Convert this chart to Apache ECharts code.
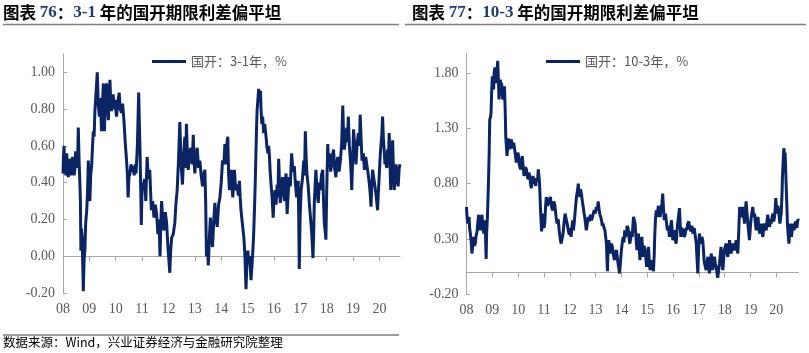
<!DOCTYPE html>
<html><head><meta charset="utf-8">
<script src="https://cdn.jsdelivr.net/npm/echarts@6/dist/echarts.min.js"></script>
<style>html,body{margin:0;padding:0;background:#fff}#c{width:809px;height:353px}</style>
</head><body><div id="c"></div>
<script>
// ---- data ----
const yearTicks = [2008,2009,2010,2011,2012,2013,2014,2015,2016,2017,2018,2019,2020];
const yearLabels = ['08','09','10','11','12','13','14','15','16','17','18','19','20'];
const yTicksA = [-0.2,0,0.2,0.4,0.6,0.8,1.0];
const yLabelsA = ['-0.20','0.00','0.20','0.40','0.60','0.80','1.00'];
const yTicksB = [-0.2,0.3,0.8,1.3,1.8];
const yLabelsB = ['-0.20','0.30','0.80','1.30','1.80'];
const nameA = '国开：3-1年，%';
const nameB = '国开：10-3年，%';

// [year, spread %]
const spread31 = [
[2008.00,0.45],[2008.02,0.55],[2008.04,0.60],[2008.06,0.47],[2008.09,0.50],[2008.11,0.44],[2008.14,0.56],[2008.17,0.48],[2008.20,0.43],[2008.23,0.51],
[2008.27,0.53],[2008.30,0.44],[2008.33,0.45],[2008.36,0.54],[2008.39,0.52],[2008.42,0.44],[2008.45,0.47],[2008.48,0.57],[2008.52,0.55],[2008.55,0.48],
[2008.58,0.70],[2008.61,0.52],[2008.64,0.40],[2008.66,0.30],[2008.68,0.03],[2008.70,0.15],[2008.73,0.10],[2008.75,-0.05],[2008.77,-0.19],[2008.80,-0.02],
[2008.83,0.03],[2008.86,0.18],[2008.90,0.25],[2008.93,0.35],[2008.96,0.52],[2008.99,0.40],[2009.02,0.30],[2009.05,0.44],[2009.09,0.50],[2009.12,0.60],
[2009.15,0.68],[2009.18,0.65],[2009.21,0.79],[2009.25,0.88],[2009.30,1.00],[2009.34,0.82],[2009.38,0.76],[2009.42,0.86],[2009.46,0.68],[2009.50,0.84],
[2009.53,0.94],[2009.55,0.78],[2009.57,0.68],[2009.61,0.86],[2009.65,0.94],[2009.69,0.80],[2009.72,0.74],[2009.75,0.88],[2009.78,0.96],[2009.81,0.84],
[2009.84,0.79],[2009.90,0.88],[2009.94,0.80],[2009.97,0.85],[2010.00,0.80],[2010.03,0.76],[2010.08,0.84],[2010.13,0.89],[2010.17,0.80],[2010.22,0.78],
[2010.26,0.83],[2010.31,0.74],[2010.36,0.62],[2010.41,0.52],[2010.44,0.45],[2010.47,0.32],[2010.50,0.43],[2010.54,0.45],[2010.58,0.50],[2010.62,0.46],
[2010.66,0.49],[2010.70,0.44],[2010.74,0.50],[2010.77,0.45],[2010.82,0.60],[2010.87,0.89],[2010.90,0.70],[2010.92,0.58],[2010.95,0.35],[2010.97,0.17],
[2011.00,0.40],[2011.04,0.36],[2011.09,0.42],[2011.14,0.30],[2011.17,0.45],[2011.19,0.54],[2011.24,0.42],[2011.29,0.47],[2011.32,0.36],[2011.35,0.25],
[2011.40,0.30],[2011.45,0.21],[2011.50,0.28],[2011.55,0.23],[2011.60,0.12],[2011.64,0.20],[2011.68,0.00],[2011.71,0.18],[2011.74,0.30],[2011.78,0.20],
[2011.83,0.14],[2011.88,0.24],[2011.93,0.18],[2011.96,0.10],[2011.99,0.03],[2012.02,0.02],[2012.05,-0.09],[2012.08,0.02],[2012.12,0.10],[2012.18,0.12],
[2012.24,0.18],[2012.28,0.28],[2012.33,0.36],[2012.38,0.52],[2012.43,0.73],[2012.48,0.50],[2012.53,0.39],[2012.58,0.56],[2012.62,0.65],[2012.65,0.48],
[2012.68,0.72],[2012.72,0.55],[2012.75,0.47],[2012.80,0.56],[2012.85,0.59],[2012.90,0.50],[2012.94,0.66],[2012.97,0.52],[2013.00,0.45],[2013.05,0.55],
[2013.09,0.59],[2013.14,0.48],[2013.19,0.52],[2013.24,0.44],[2013.29,0.38],[2013.33,0.44],[2013.38,0.47],[2013.41,0.30],[2013.44,0.00],[2013.47,0.08],
[2013.51,-0.05],[2013.55,0.10],[2013.59,0.21],[2013.63,0.12],[2013.67,0.05],[2013.72,0.20],[2013.76,0.29],[2013.80,0.20],[2013.85,0.16],[2013.90,0.28],
[2013.95,0.32],[2014.00,0.40],[2014.05,0.52],[2014.10,0.50],[2014.14,0.61],[2014.17,0.50],[2014.20,0.59],[2014.23,0.63],[2014.25,0.65],[2014.28,0.45],
[2014.31,0.36],[2014.35,0.44],[2014.38,0.47],[2014.41,0.38],[2014.44,0.32],[2014.47,0.40],[2014.50,0.47],[2014.55,0.36],[2014.60,0.39],[2014.65,0.33],
[2014.69,0.41],[2014.72,0.32],[2014.75,0.25],[2014.80,0.18],[2014.86,0.10],[2014.90,0.00],[2014.94,-0.18],[2014.97,-0.05],[2015.01,0.03],[2015.04,-0.03],
[2015.07,0.00],[2015.10,-0.06],[2015.13,-0.13],[2015.17,-0.04],[2015.20,0.03],[2015.23,0.12],[2015.26,0.25],[2015.29,0.40],[2015.32,0.58],[2015.34,0.70],
[2015.36,0.79],[2015.39,0.85],[2015.42,0.91],[2015.45,0.84],[2015.49,0.90],[2015.51,0.80],[2015.54,0.72],[2015.57,0.76],[2015.61,0.67],[2015.65,0.72],
[2015.70,0.65],[2015.73,0.60],[2015.77,0.56],[2015.80,0.60],[2015.83,0.54],[2015.86,0.45],[2015.89,0.39],[2015.93,0.32],[2015.97,0.21],[2016.00,0.30],
[2016.04,0.36],[2016.08,0.28],[2016.12,0.39],[2016.15,0.32],[2016.18,0.53],[2016.21,0.40],[2016.24,0.29],[2016.28,0.36],[2016.33,0.43],[2016.37,0.34],
[2016.40,0.30],[2016.43,0.40],[2016.46,0.45],[2016.48,0.32],[2016.50,0.23],[2016.54,0.34],[2016.58,0.43],[2016.62,0.38],[2016.67,0.56],[2016.72,0.46],
[2016.77,0.49],[2016.81,0.40],[2016.86,0.32],[2016.89,0.38],[2016.92,0.41],[2016.94,0.20],[2016.96,-0.07],[2016.99,0.20],[2017.03,0.36],[2017.08,0.42],
[2017.13,0.52],[2017.16,0.44],[2017.19,0.68],[2017.22,0.54],[2017.25,0.45],[2017.30,0.38],[2017.34,0.29],[2017.38,0.22],[2017.43,0.13],[2017.46,0.05],
[2017.48,-0.01],[2017.51,0.15],[2017.53,0.29],[2017.56,0.38],[2017.59,0.47],[2017.64,0.34],[2017.68,0.29],[2017.72,0.40],[2017.76,0.36],[2017.80,0.44],
[2017.85,0.47],[2017.88,0.30],[2017.91,0.18],[2017.94,0.14],[2017.97,0.09],[2018.00,0.35],[2018.04,0.61],[2018.07,0.50],[2018.10,0.56],[2018.15,0.46],
[2018.19,0.50],[2018.22,0.55],[2018.26,0.58],[2018.30,0.48],[2018.35,0.43],[2018.38,0.50],[2018.42,0.54],[2018.47,0.46],[2018.52,0.52],[2018.57,0.62],
[2018.61,0.82],[2018.64,0.66],[2018.67,0.58],[2018.72,0.64],[2018.76,0.70],[2018.79,0.62],[2018.82,0.76],[2018.86,0.60],[2018.90,0.52],[2018.93,0.44],
[2018.95,0.36],[2018.99,0.55],[2019.02,0.69],[2019.07,0.58],[2019.11,0.50],[2019.15,0.60],[2019.20,0.67],[2019.24,0.60],[2019.27,0.77],[2019.31,0.62],
[2019.34,0.52],[2019.39,0.56],[2019.43,0.47],[2019.48,0.54],[2019.53,0.49],[2019.58,0.44],[2019.62,0.39],[2019.65,0.34],[2019.68,0.27],[2019.71,0.38],
[2019.74,0.47],[2019.79,0.42],[2019.83,0.38],[2019.88,0.32],[2019.93,0.25],[2019.96,0.35],[2019.99,0.43],[2020.02,0.52],[2020.05,0.59],[2020.09,0.66],
[2020.12,0.76],[2020.15,0.64],[2020.18,0.58],[2020.21,0.50],[2020.24,0.52],[2020.28,0.48],[2020.31,0.58],[2020.34,0.52],[2020.37,0.67],[2020.40,0.50],
[2020.43,0.36],[2020.47,0.52],[2020.50,0.63],[2020.53,0.48],[2020.56,0.36],[2020.60,0.44],[2020.63,0.50],[2020.67,0.42],[2020.71,0.38],[2020.75,0.48],
[2020.78,0.50]
];

const spread103 = [
[2008.00,0.59],[2008.02,0.50],[2008.05,0.44],[2008.08,0.48],[2008.10,0.50],[2008.12,0.40],[2008.15,0.35],[2008.18,0.28],[2008.21,0.17],[2008.25,0.26],
[2008.28,0.32],[2008.31,0.24],[2008.34,0.26],[2008.37,0.33],[2008.41,0.37],[2008.44,0.45],[2008.47,0.52],[2008.50,0.42],[2008.54,0.38],[2008.57,0.48],
[2008.60,0.52],[2008.63,0.42],[2008.67,0.35],[2008.70,0.44],[2008.72,0.47],[2008.74,0.30],[2008.76,0.12],[2008.78,0.35],[2008.81,0.50],[2008.83,0.65],
[2008.85,0.80],[2008.88,1.10],[2008.90,1.38],[2008.93,1.40],[2008.95,1.44],[2008.97,1.60],[2009.00,1.77],[2009.02,1.70],[2009.05,1.65],[2009.07,1.80],
[2009.10,1.85],[2009.13,1.75],[2009.16,1.71],[2009.18,1.82],[2009.21,1.91],[2009.24,1.70],[2009.26,1.56],[2009.29,1.68],[2009.31,1.74],[2009.34,1.66],
[2009.36,1.71],[2009.38,1.62],[2009.41,1.56],[2009.44,1.64],[2009.47,1.68],[2009.50,1.45],[2009.52,1.23],[2009.55,1.12],[2009.57,1.05],[2009.60,1.14],
[2009.62,1.21],[2009.65,1.14],[2009.67,1.11],[2009.70,1.17],[2009.74,1.20],[2009.77,1.12],[2009.80,1.11],[2009.83,1.17],[2009.87,1.18],[2009.90,1.05],
[2009.93,0.99],[2009.96,1.05],[2010.00,1.08],[2010.04,0.98],[2010.09,0.93],[2010.12,1.00],[2010.16,1.05],[2010.20,0.94],[2010.23,0.87],[2010.28,0.95],
[2010.32,0.93],[2010.35,0.88],[2010.38,0.84],[2010.42,0.90],[2010.45,0.87],[2010.48,0.80],[2010.51,0.76],[2010.55,0.83],[2010.58,0.87],[2010.61,0.80],
[2010.64,0.82],[2010.68,0.78],[2010.71,0.85],[2010.75,0.82],[2010.78,0.93],[2010.81,0.86],[2010.83,0.80],[2010.87,0.55],[2010.91,0.37],[2010.94,0.48],
[2010.96,0.53],[2011.00,0.40],[2011.03,0.44],[2011.06,0.58],[2011.09,0.68],[2011.13,0.60],[2011.17,0.62],[2011.21,0.66],[2011.25,0.68],[2011.29,0.60],
[2011.33,0.56],[2011.38,0.64],[2011.42,0.61],[2011.47,0.50],[2011.51,0.44],[2011.55,0.48],[2011.59,0.38],[2011.62,0.32],[2011.66,0.26],[2011.70,0.30],
[2011.74,0.35],[2011.78,0.45],[2011.82,0.53],[2011.86,0.48],[2011.90,0.44],[2011.94,0.38],[2011.98,0.34],[2012.01,0.40],[2012.05,0.32],[2012.08,0.40],
[2012.11,0.47],[2012.14,0.38],[2012.17,0.44],[2012.22,0.58],[2012.26,0.68],[2012.30,0.74],[2012.33,0.80],[2012.36,0.72],[2012.39,0.68],[2012.42,0.75],
[2012.45,0.71],[2012.49,0.64],[2012.52,0.59],[2012.55,0.54],[2012.58,0.50],[2012.61,0.44],[2012.64,0.38],[2012.68,0.44],[2012.72,0.50],[2012.76,0.46],
[2012.80,0.52],[2012.84,0.47],[2012.88,0.50],[2012.92,0.54],[2012.95,0.56],[2012.99,0.53],[2013.03,0.59],[2013.07,0.56],[2013.10,0.64],[2013.13,0.58],
[2013.16,0.53],[2013.20,0.50],[2013.23,0.47],[2013.26,0.42],[2013.29,0.44],[2013.33,0.40],[2013.36,0.38],[2013.39,0.32],[2013.42,0.26],[2013.44,0.12],
[2013.46,0.01],[2013.48,0.18],[2013.51,0.29],[2013.55,0.22],[2013.58,0.17],[2013.61,0.26],[2013.65,0.23],[2013.69,0.16],[2013.73,0.11],[2013.77,0.18],
[2013.81,0.20],[2013.84,0.14],[2013.87,0.08],[2013.90,0.04],[2013.93,-0.01],[2013.96,0.08],[2014.00,0.20],[2014.04,0.28],[2014.07,0.32],[2014.10,0.27],
[2014.13,0.38],[2014.16,0.32],[2014.19,0.35],[2014.22,0.42],[2014.26,0.40],[2014.29,0.33],[2014.32,0.26],[2014.36,0.30],[2014.39,0.37],[2014.42,0.32],
[2014.45,0.44],[2014.47,0.50],[2014.50,0.47],[2014.53,0.44],[2014.57,0.30],[2014.60,0.20],[2014.63,0.28],[2014.66,0.35],[2014.69,0.22],[2014.72,0.11],
[2014.76,0.24],[2014.79,0.32],[2014.82,0.22],[2014.85,0.14],[2014.88,0.24],[2014.92,0.20],[2014.95,0.12],[2014.98,0.05],[2015.02,0.14],[2015.05,0.23],
[2015.08,0.10],[2015.11,0.02],[2015.15,0.08],[2015.18,0.11],[2015.21,0.05],[2015.24,0.01],[2015.27,0.15],[2015.29,0.32],[2015.32,0.48],[2015.35,0.56],
[2015.38,0.50],[2015.40,0.53],[2015.43,0.60],[2015.45,0.59],[2015.48,0.54],[2015.50,0.50],[2015.54,0.58],[2015.57,0.62],[2015.60,0.71],[2015.63,0.58],
[2015.66,0.47],[2015.69,0.50],[2015.71,0.53],[2015.75,0.44],[2015.78,0.38],[2015.82,0.42],[2015.86,0.32],[2015.90,0.40],[2015.94,0.47],[2015.97,0.36],
[2015.99,0.29],[2016.02,0.35],[2016.04,0.38],[2016.08,0.30],[2016.12,0.26],[2016.15,0.36],[2016.18,0.44],[2016.22,0.52],[2016.25,0.58],[2016.28,0.42],
[2016.30,0.32],[2016.34,0.40],[2016.38,0.38],[2016.43,0.32],[2016.47,0.34],[2016.50,0.40],[2016.53,0.38],[2016.57,0.44],[2016.61,0.46],[2016.65,0.40],
[2016.69,0.37],[2016.73,0.42],[2016.77,0.35],[2016.80,0.38],[2016.82,0.40],[2016.86,0.33],[2016.90,0.26],[2016.93,0.12],[2016.96,-0.01],[2016.99,0.20],
[2017.02,0.35],[2017.06,0.28],[2017.09,0.26],[2017.12,0.32],[2017.15,0.29],[2017.18,0.20],[2017.20,0.11],[2017.24,0.06],[2017.28,0.02],[2017.32,0.10],
[2017.35,0.14],[2017.38,0.06],[2017.41,-0.01],[2017.45,0.08],[2017.48,0.17],[2017.51,0.10],[2017.54,0.02],[2017.57,0.10],[2017.60,0.14],[2017.64,0.08],
[2017.67,0.05],[2017.70,0.00],[2017.73,-0.05],[2017.77,0.02],[2017.80,0.08],[2017.83,0.16],[2017.86,0.23],[2017.90,0.10],[2017.93,0.02],[2017.96,0.12],
[2017.99,0.20],[2018.03,0.24],[2018.06,0.26],[2018.09,0.18],[2018.12,0.14],[2018.16,0.22],[2018.19,0.29],[2018.22,0.22],[2018.25,0.17],[2018.29,0.22],
[2018.32,0.26],[2018.35,0.22],[2018.38,0.20],[2018.42,0.26],[2018.45,0.29],[2018.48,0.22],[2018.51,0.17],[2018.55,0.40],[2018.58,0.59],[2018.61,0.52],
[2018.64,0.50],[2018.67,0.56],[2018.70,0.59],[2018.74,0.50],[2018.77,0.44],[2018.80,0.55],[2018.83,0.64],[2018.87,0.52],[2018.90,0.44],[2018.93,0.36],
[2018.96,0.29],[2019.00,0.42],[2019.03,0.50],[2019.06,0.55],[2019.09,0.59],[2019.12,0.50],[2019.16,0.53],[2019.19,0.44],[2019.22,0.38],[2019.26,0.45],
[2019.29,0.50],[2019.32,0.42],[2019.35,0.35],[2019.38,0.40],[2019.41,0.44],[2019.45,0.36],[2019.48,0.32],[2019.51,0.40],[2019.54,0.44],[2019.58,0.40],
[2019.61,0.38],[2019.64,0.46],[2019.67,0.52],[2019.70,0.45],[2019.74,0.41],[2019.77,0.48],[2019.80,0.44],[2019.84,0.50],[2019.87,0.53],[2019.90,0.46],
[2019.93,0.50],[2019.96,0.58],[2019.98,0.67],[2020.01,0.58],[2020.03,0.53],[2020.06,0.60],[2020.09,0.56],[2020.12,0.48],[2020.14,0.44],[2020.17,0.50],
[2020.19,0.53],[2020.22,0.70],[2020.24,0.87],[2020.27,1.02],[2020.29,1.12],[2020.32,1.06],[2020.34,1.08],[2020.36,0.95],[2020.38,0.80],[2020.41,0.60],
[2020.43,0.44],[2020.46,0.34],[2020.49,0.26],[2020.52,0.38],[2020.54,0.44],[2020.57,0.36],[2020.59,0.32],[2020.62,0.40],[2020.64,0.44],[2020.67,0.40],
[2020.69,0.38],[2020.73,0.44],[2020.76,0.46],[2020.79,0.40],[2020.82,0.41],[2020.84,0.48],[2020.86,0.47]
];

// ---- chart ----
const LINE = '#0b2463', AX = '#a6a6a6', LBL = '#595959';
const serif = '"Liberation Serif", "DejaVu Serif", serif';
const cjk = '"Noto Sans CJK SC", sans-serif';
const yLab = (ticks, labels) => v => { const i = ticks.findIndex(t => Math.abs(t - v) < 1e-6); return i < 0 ? '' : labels[i]; };
const xLab = v => { const i = yearTicks.indexOf(Math.round(v)); return i < 0 ? '' : yearLabels[i]; };

function xAxes(gi, max) {
  return [
    { gridIndex: gi, type: 'value', min: 2008, max: max, position: 'bottom',
      axisLine: { show: false, onZero: false }, axisTick: { show: false }, splitLine: { show: false },
      axisLabel: { customValues: yearTicks, formatter: xLab, color: LBL, fontFamily: serif, fontSize: 14, margin: 9 } },
    { gridIndex: gi, type: 'value', min: 2008, max: max,
      axisLine: { show: true, onZero: true, lineStyle: { color: AX, width: 1 } },
      axisTick: { show: true, inside: true, length: 5, customValues: yearTicks, lineStyle: { color: AX } },
      axisLabel: { show: false }, splitLine: { show: false } }
  ];
}
function yAxis(gi, min, max, ticks, labels) {
  return { gridIndex: gi, type: 'value', min: min, max: max,
    axisLine: { show: true, lineStyle: { color: AX, width: 1 } },
    axisTick: { show: true, inside: true, length: 4, customValues: ticks, lineStyle: { color: AX } },
    axisLabel: { customValues: ticks, formatter: yLab(ticks, labels), color: LBL, fontFamily: serif, fontSize: 14, margin: 8 },
    splitLine: { show: false } };
}

function titleText(num, span) {
  return '{c|图表 }{n|' + num + '}{c|：}{n|' + span + '}{c| 年的国开期限利差偏平坦}';
}
const titleRich = {
  c: { fontFamily: cjk, fontWeight: 'bold', fontSize: 16.5, fill: '#000' },
  n: { fontFamily: serif, fontWeight: 'bold', fontSize: 17, fill: '#1f3a70' }
};

const chart = echarts.init(document.getElementById('c'), null, { renderer: 'canvas' });
chart.setOption({
  animation: false,
  backgroundColor: '#fff',
  grid: [
    { left: 63, top: 54, width: 337, height: 239 },
    { left: 466.5, top: 53, width: 332, height: 241.5 }
  ],
  xAxis: [...xAxes(0, 2020.78), ...xAxes(1, 2020.86)],
  yAxis: [yAxis(0, -0.2, 1.1, yTicksA, yLabelsA), yAxis(1, -0.2, 1.98, yTicksB, yLabelsB)],
  legend: [
    { data: [nameA], left: 147, top: 50, icon: 'rect', itemWidth: 34, itemHeight: 3, itemGap: 5,
      textStyle: { color: LBL, fontFamily: cjk, fontSize: 13 } },
    { data: [nameB], left: 541, top: 50, icon: 'rect', itemWidth: 34, itemHeight: 3, itemGap: 5,
      textStyle: { color: LBL, fontFamily: cjk, fontSize: 13 } }
  ],
  series: [
    { name: nameA, type: 'line', xAxisIndex: 0, yAxisIndex: 0, data: spread31,
      showSymbol: false, symbol: 'none', lineStyle: { color: LINE, width: 3 }, itemStyle: { color: LINE } },
    { name: nameB, type: 'line', xAxisIndex: 2, yAxisIndex: 1, data: spread103,
      showSymbol: false, symbol: 'none', lineStyle: { color: LINE, width: 3 }, itemStyle: { color: LINE } }
  ],
  graphic: [
    { type: 'text', left: 3, top: 4, style: { text: titleText('76', '3-1'), rich: titleRich } },
    { type: 'text', left: 412, top: 4, style: { text: titleText('77', '10-3'), rich: titleRich } },
    { type: 'line', shape: { x1: 3, y1: 24.5, x2: 399, y2: 24.5 }, style: { stroke: '#7f7f7f', lineWidth: 1.5 } },
    { type: 'line', shape: { x1: 405, y1: 24.5, x2: 806, y2: 24.5 }, style: { stroke: '#7f7f7f', lineWidth: 1.5 } },
    { type: 'line', shape: { x1: 3, y1: 335, x2: 399, y2: 335 }, style: { stroke: '#7f7f7f', lineWidth: 1.5 } },
    { type: 'text', left: 3, top: 336, style: { text: '数据来源：Wind，兴业证券经济与金融研究院整理', fontFamily: cjk, fontSize: 12.5, fill: '#000' } }
  ]
});
</script></body></html>
